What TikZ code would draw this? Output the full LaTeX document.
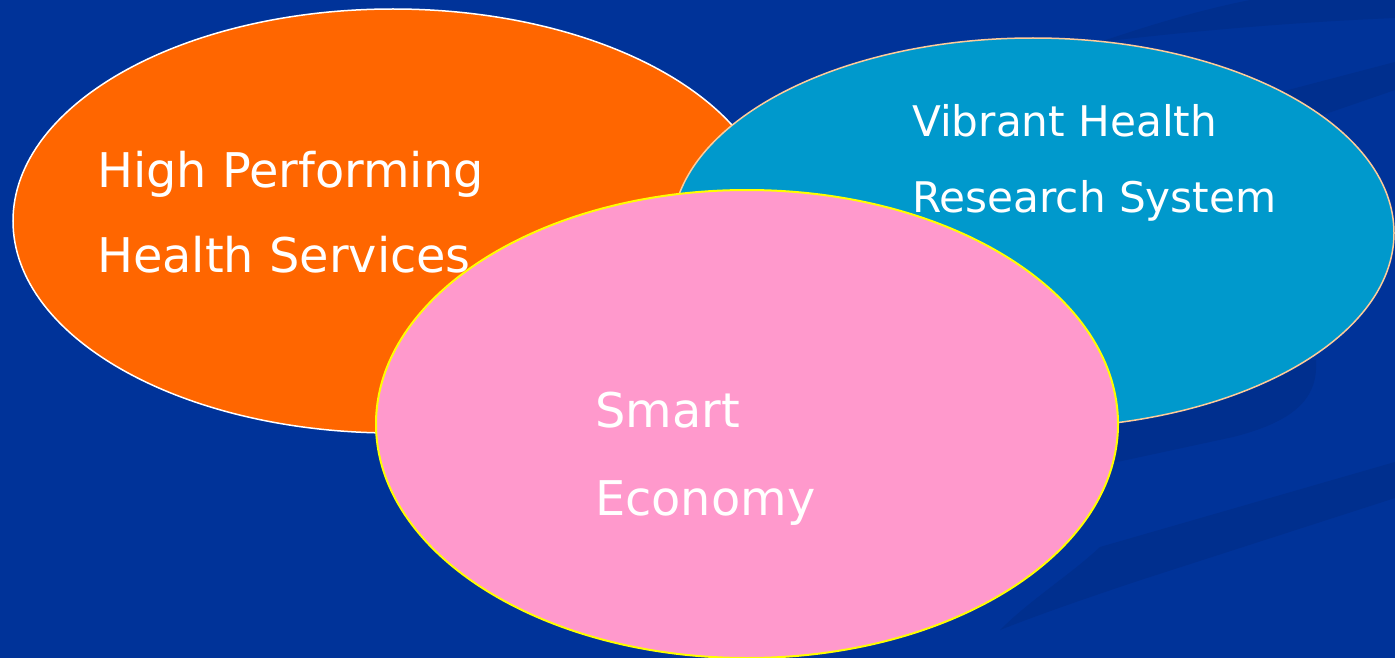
\documentclass[tikz,border=0pt]{standalone}
\usepackage{fontspec}
\setmainfont{DejaVu Sans}
\usetikzlibrary{shapes.geometric}
\definecolor{bgblue}{RGB}{0,51,153}
\definecolor{stripeblue}{RGB}{0,47,142}
\definecolor{ovorange}{RGB}{255,102,0}
\definecolor{ovcyan}{RGB}{0,153,204}
\definecolor{ovpink}{RGB}{255,153,204}
\definecolor{peach}{RGB}{255,204,153}
\definecolor{yel}{RGB}{255,255,0}
\tikzset{
  oval/.style={ellipse, inner sep=0pt, line width=1.5pt},
  big/.style={anchor=base west, inner sep=0pt, text=white, font=\fontsize{47.8}{56}\selectfont},
  small/.style={anchor=base west, inner sep=0pt, text=white, font=\fontsize{42.2}{50}\selectfont},
  stripe/.style={fill=stripeblue, draw=none}
}
\begin{document}
\begin{tikzpicture}[x=1pt,y=-1pt]
\useasboundingbox (0,0) rectangle (1395,658);
\fill[bgblue] (0,0) rectangle (1395,658);
\clip (0,0) rectangle (1395,658);
% background stripes
\fill[stripe] (1395,462) -- (1395,498) -- (1150,577) .. controls (1080,600) and (1030,618) .. (1000,630) .. controls (1030,600) and (1070,575) .. (1100,547) -- cycle;
\fill[stripe] (1080,360) -- (1080,470) -- (1233,437) .. controls (1300,420) and (1318,395) .. (1316,360) -- cycle;
\fill[stripe] (1250,140) -- (1395,90) -- (1395,62) -- (1250,100) -- cycle;
\fill[stripe] (1100,42) .. controls (1200,30) and (1300,22) .. (1395,18) -- (1395,0) -- (1250,0) .. controls (1200,10) and (1150,25) .. (1100,42) -- cycle;
% ellipses
\node[oval, fill=ovorange, draw=white, minimum width=760pt, minimum height=424pt] (hp) at (393,221) {};
\node[oval, fill=ovcyan, draw=peach, minimum width=722pt, minimum height=390pt] (vh) at (1033,233) {};
\node[oval, fill=ovpink, draw=yel, line width=2pt, minimum width=742pt, minimum height=468pt] (se) at (747,424) {};
% texts
\node[big] (hp1) at (97,187) {High Performing};
\node[big] (hp2) at (97,272) {Health Services};
\node[small] (vh1) at (912,137) {Vibrant Health};
\node[small] (vh2) at (912,212) {Research System};
\node[big] (se1) at (595,427) {Smart};
\node[big] (se2) at (595,515) {Economy};
\end{tikzpicture}
\end{document}
